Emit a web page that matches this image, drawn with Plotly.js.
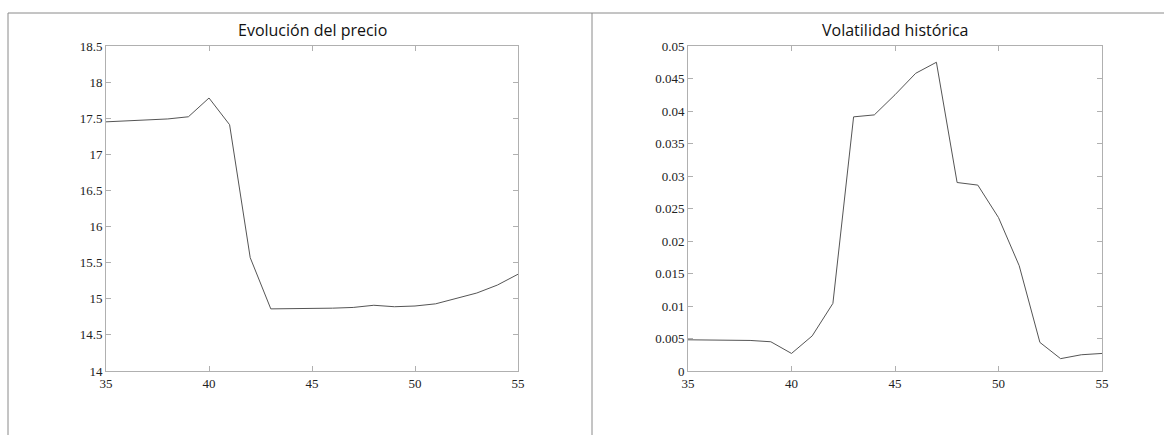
<!DOCTYPE html>
<html>
<head>
<meta charset="utf-8">
<script src="https://cdn.plot.ly/plotly-3.0.1.min.js"></script>
<style>html,body{margin:0;padding:0;background:#fff;}#chart{width:1164px;height:435px;}</style>
</head>
<body>
<div id="chart"></div>
<script>
const days = [35,36,37,38,39,40,41,42,43,44,45,46,47,48,49,50,51,52,53,54,55];
const precio = [17.45,17.46,17.47,17.49,17.52,17.78,17.41,15.57,14.86,14.86,14.87,14.87,14.88,14.91,14.89,14.90,14.93,15.00,15.08,15.19,15.34];
const volatilidad = [0.0048,0.0048,0.0048,0.0047,0.0045,0.0027,0.0054,0.0104,0.0391,0.0394,0.0425,0.0458,0.0475,0.0290,0.0286,0.0236,0.0162,0.0044,0.0019,0.0025,0.0027];
const titles = ["Evolución del precio", "Volatilidad histórica"];

const W = 1164, H = 435;
const px = v => v / W, py = v => 1 - v / H;

const lineStyle = {color: '#555555', width: 1};
const traces = [
  {x: days, y: precio, type: 'scatter', mode: 'lines', line: lineStyle, xaxis: 'x', yaxis: 'y', hoverinfo: 'none'},
  {x: days, y: volatilidad, type: 'scatter', mode: 'lines', line: lineStyle, xaxis: 'x2', yaxis: 'y2', hoverinfo: 'none'}
];

const tickFont = {family: '"Liberation Serif", "Times New Roman", serif', size: 13, color: '#222'};
const axisCommon = {
  showgrid: false, zeroline: false, showline: true, linecolor: '#b0b0b0', linewidth: 1,
  mirror: 'ticks', ticks: 'inside', ticklen: 5, tickcolor: '#b0b0b0', tickfont: tickFont, fixedrange: true
};

const layout = {
  width: W, height: H,
  margin: {l: 0, r: 0, t: 0, b: 0},
  paper_bgcolor: '#fff', plot_bgcolor: '#fff',
  showlegend: false,
  xaxis: Object.assign({}, axisCommon, {domain: [px(106), px(518)], range: [35, 55], dtick: 5, anchor: 'y'}),
  yaxis: Object.assign({}, axisCommon, {domain: [py(371), py(46)], range: [14, 18.5], dtick: 0.5, anchor: 'x', ticklabelstandoff: 0}),
  xaxis2: Object.assign({}, axisCommon, {domain: [px(688), px(1102)], range: [35, 55], dtick: 5, anchor: 'y2'}),
  yaxis2: Object.assign({}, axisCommon, {domain: [py(371), py(46)], range: [0, 0.05], dtick: 0.005, anchor: 'x2'}),
  annotations: [
    {text: titles[0], xref: 'paper', yref: 'paper', x: px(312), y: py(30), xanchor: 'center', yanchor: 'middle', showarrow: false,
     font: {family: '"Open Sans", "Noto Sans", sans-serif', size: 16, color: '#111'}},
    {text: titles[1], xref: 'paper', yref: 'paper', x: px(895), y: py(30), xanchor: 'center', yanchor: 'middle', showarrow: false,
     font: {family: '"Open Sans", "Noto Sans", sans-serif', size: 16, color: '#111'}}
  ],
  shapes: [
    {type: 'line', xref: 'paper', yref: 'paper', x0: px(8), x1: 1, y0: py(13), y1: py(13), line: {color: '#8a8a8a', width: 1}},
    {type: 'line', xref: 'paper', yref: 'paper', x0: px(8), x1: px(8), y0: py(13), y1: 0, line: {color: '#8a8a8a', width: 1}},
    {type: 'line', xref: 'paper', yref: 'paper', x0: px(592), x1: px(592), y0: py(13), y1: 0, line: {color: '#8a8a8a', width: 1}}
  ]
};

Plotly.newPlot('chart', traces, layout, {staticPlot: true, displayModeBar: false});
</script>
</body>
</html>
